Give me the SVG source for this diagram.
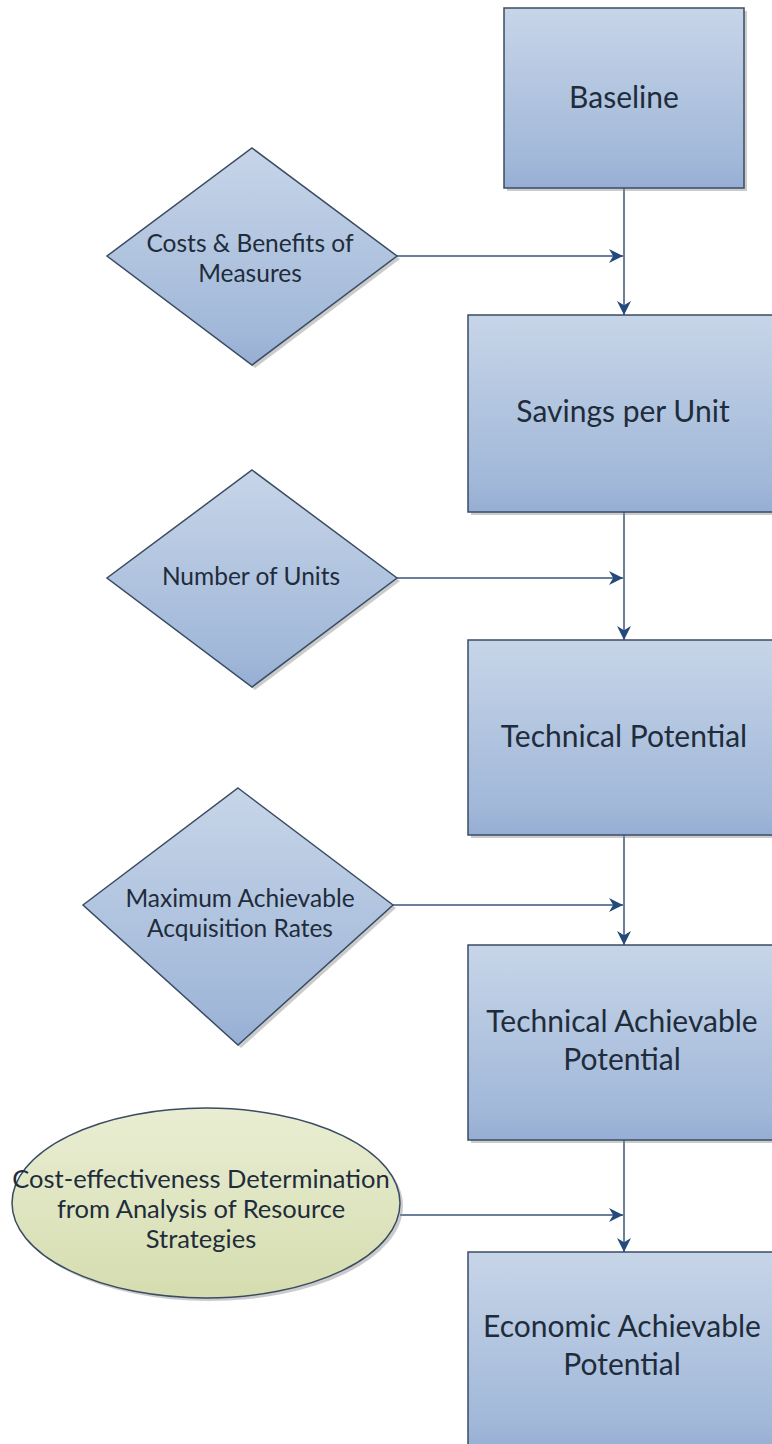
<svg xmlns="http://www.w3.org/2000/svg" width="772" height="1444" viewBox="0 0 772 1444">
<defs>
<linearGradient id="gb" x1="0" y1="0" x2="0" y2="1">
<stop offset="0" stop-color="#c7d5e8"/>
<stop offset="0.85" stop-color="#a1b8d9"/>
<stop offset="1" stop-color="#96aed4"/>
</linearGradient>
<linearGradient id="gg" x1="0" y1="0" x2="0" y2="1">
<stop offset="0" stop-color="#e9eed3"/>
<stop offset="1" stop-color="#d5ddaf"/>
</linearGradient>
<marker id="ah" viewBox="0 0 10 10" refX="10" refY="5" markerWidth="14" markerHeight="14" markerUnits="userSpaceOnUse" orient="auto">
<path d="M0,0 L10,5 L0,10 L3,5 z" fill="#244a7c"/>
</marker>
</defs>
<style>
.box{fill:url(#gb);stroke:#3a4c63;stroke-width:1.5}
.ell{fill:url(#gg);stroke:#3a4c63;stroke-width:1.5}
.sh{fill:#8c8c8c;opacity:0.45}
.t{font-family:Lato,"Liberation Sans",sans-serif;fill:#1f2c3b;text-anchor:middle}
.big{font-size:30px}
.sm{font-size:24.5px}
.el{font-size:25.5px}
.c{fill:none;stroke:#3b5578;stroke-width:1.5;marker-end:url(#ah)}
</style>
<rect width="772" height="1444" fill="#ffffff"/>
<g id="connectors">
<path class="c" d="M624,188 L624,315"/>
<path class="c" d="M397,256 L623,256"/>
<path class="c" d="M624,512 L624,640"/>
<path class="c" d="M397,578 L623,578"/>
<path class="c" d="M624,835 L624,945"/>
<path class="c" d="M391,905 L623,905"/>
<path class="c" d="M624,1140 L624,1252"/>
<path class="c" d="M400,1215 L623,1215"/>
</g>
<g id="baseline">
<rect class="sh" x="507" y="11" width="240" height="180"/>
<rect class="box" x="504" y="8" width="240" height="180"/>
<text class="t big" x="624" y="108">Baseline</text>
</g>
<g id="costs-benefits">
<polygon class="sh" points="255,151 400,259 255,368 110,259"/>
<polygon class="box" points="252,148 397,256 252,365 107,256"/>
<text class="t sm" x="250" y="252">Costs &amp; Benefits of</text>
<text class="t sm" x="250" y="282">Measures</text>
</g>
<g id="savings-per-unit">
<rect class="sh" x="471" y="318" width="320" height="197"/>
<rect class="box" x="468" y="315" width="320" height="197"/>
<text class="t big" x="623" y="422">Savings per Unit</text>
</g>
<g id="number-of-units">
<polygon class="sh" points="255,473 400,581 255,690 110,581"/>
<polygon class="box" points="252,470 397,578 252,687 107,578"/>
<text class="t sm" x="251" y="585">Number of Units</text>
</g>
<g id="technical-potential">
<rect class="sh" x="471" y="643" width="320" height="195"/>
<rect class="box" x="468" y="640" width="320" height="195"/>
<text class="t big" x="624" y="747">Technical Potential</text>
</g>
<g id="max-acquisition">
<polygon class="sh" points="241,791 396,908 241,1048 86,908"/>
<polygon class="box" points="238,788 393,905 238,1045 83,905"/>
<text class="t sm" x="240" y="907">Maximum Achievable</text>
<text class="t sm" x="240" y="937">Acquisition Rates</text>
</g>
<g id="technical-achievable">
<rect class="sh" x="471" y="948" width="320" height="195"/>
<rect class="box" x="468" y="945" width="320" height="195"/>
<text class="t big" x="622" y="1032">Technical Achievable</text>
<text class="t big" x="622" y="1070">Potential</text>
</g>
<g id="cost-effectiveness">
<ellipse class="sh" cx="209" cy="1206" rx="194" ry="95"/>
<ellipse class="ell" cx="206" cy="1203" rx="194" ry="95"/>
<text class="t el" x="201" y="1188">Cost-effectiveness Determination</text>
<text class="t el" x="201" y="1218">from Analysis of Resource</text>
<text class="t el" x="201" y="1248">Strategies</text>
</g>
<g id="economic-achievable">
<rect class="sh" x="471" y="1255" width="320" height="200"/>
<rect class="box" x="468" y="1252" width="320" height="200"/>
<text class="t big" x="622" y="1337">Economic Achievable</text>
<text class="t big" x="622" y="1375">Potential</text>
</g>
</svg>
